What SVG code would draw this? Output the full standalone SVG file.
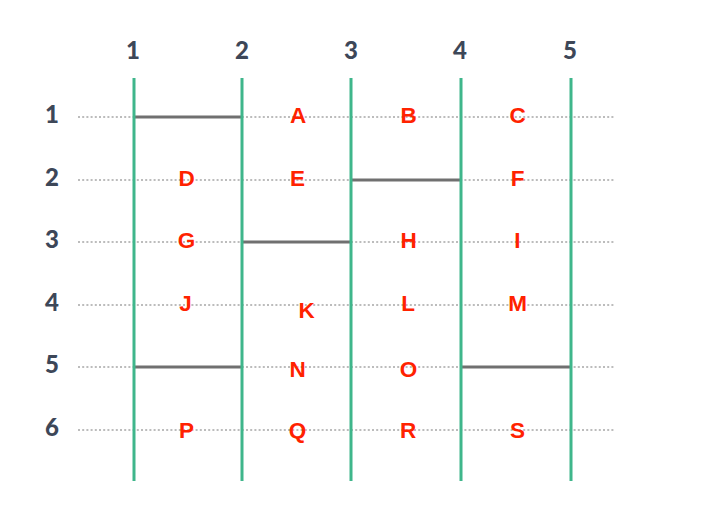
<svg xmlns="http://www.w3.org/2000/svg" width="701" height="511" viewBox="0 0 701 511">
<style>
.dot{stroke:#bcbcbc;stroke-width:2.2;stroke-dasharray:2 2.2;fill:none}
.v{stroke:#3fb68b;stroke-width:3;fill:none}
.h{stroke:#707070;stroke-width:3;fill:none}
.ax{font-family:Lato,"Liberation Sans",sans-serif;font-weight:900;font-size:24px;fill:#3d4758;text-anchor:middle}
.lb{font-family:"Liberation Sans",Arial,sans-serif;font-weight:700;font-size:22.5px;fill:#ff2200;text-anchor:middle}
</style>
<rect width="701" height="511" fill="#ffffff"/>
<g id="connectors">
<line class="dot" x1="78" y1="117" x2="614" y2="117"/>
<line class="dot" x1="78" y1="180" x2="614" y2="180"/>
<line class="dot" x1="78" y1="242" x2="614" y2="242"/>
<line class="dot" x1="78" y1="305" x2="614" y2="305"/>
<line class="dot" x1="78" y1="367" x2="614" y2="367"/>
<line class="dot" x1="78" y1="430" x2="614" y2="430"/>
<line class="h" x1="134" y1="117" x2="242" y2="117"/>
<line class="h" x1="351" y1="180" x2="461" y2="180"/>
<line class="h" x1="242" y1="242" x2="351" y2="242"/>
<line class="h" x1="134" y1="367" x2="242" y2="367"/>
<line class="h" x1="461" y1="367" x2="571" y2="367"/>
<line class="v" x1="134" y1="78" x2="134" y2="481"/>
<line class="v" x1="242" y1="78" x2="242" y2="481"/>
<line class="v" x1="351" y1="78" x2="351" y2="481"/>
<line class="v" x1="461" y1="78" x2="461" y2="481"/>
<line class="v" x1="571" y1="78" x2="571" y2="481"/>
</g>
<g id="axes">
<text class="ax" x="133" y="58.5">1</text>
<text class="ax" x="242" y="58.5">2</text>
<text class="ax" x="351" y="58.5">3</text>
<text class="ax" x="460" y="58.5">4</text>
<text class="ax" x="570" y="58.5">5</text>
<text class="ax" x="52" y="123">1</text>
<text class="ax" x="52" y="186">2</text>
<text class="ax" x="52" y="248">3</text>
<text class="ax" x="52" y="311">4</text>
<text class="ax" x="52" y="373">5</text>
<text class="ax" x="52" y="436">6</text>
</g>
<g id="A"><text class="lb" x="298" y="123">A</text></g>
<g id="B"><text class="lb" x="408.5" y="123">B</text></g>
<g id="C"><text class="lb" x="517.5" y="123">C</text></g>
<g id="D"><text class="lb" x="186.5" y="186">D</text></g>
<g id="E"><text class="lb" x="297.5" y="186">E</text></g>
<g id="F"><text class="lb" x="517.5" y="186">F</text></g>
<g id="G"><text class="lb" x="186.5" y="248">G</text></g>
<g id="H"><text class="lb" x="408.5" y="248">H</text></g>
<g id="I"><text class="lb" x="517.5" y="248">I</text></g>
<g id="J"><text class="lb" x="185.5" y="311">J</text></g>
<g id="K"><text class="lb" x="306.5" y="318">K</text></g>
<g id="L"><text class="lb" x="408" y="311">L</text></g>
<g id="M"><text class="lb" x="517.5" y="311">M</text></g>
<g id="N"><text class="lb" x="297.5" y="377">N</text></g>
<g id="O"><text class="lb" x="408.5" y="377">O</text></g>
<g id="P"><text class="lb" x="186.5" y="438">P</text></g>
<g id="Q"><text class="lb" x="297.5" y="438">Q</text></g>
<g id="R"><text class="lb" x="408" y="438">R</text></g>
<g id="S"><text class="lb" x="517.5" y="438">S</text></g>
</svg>
